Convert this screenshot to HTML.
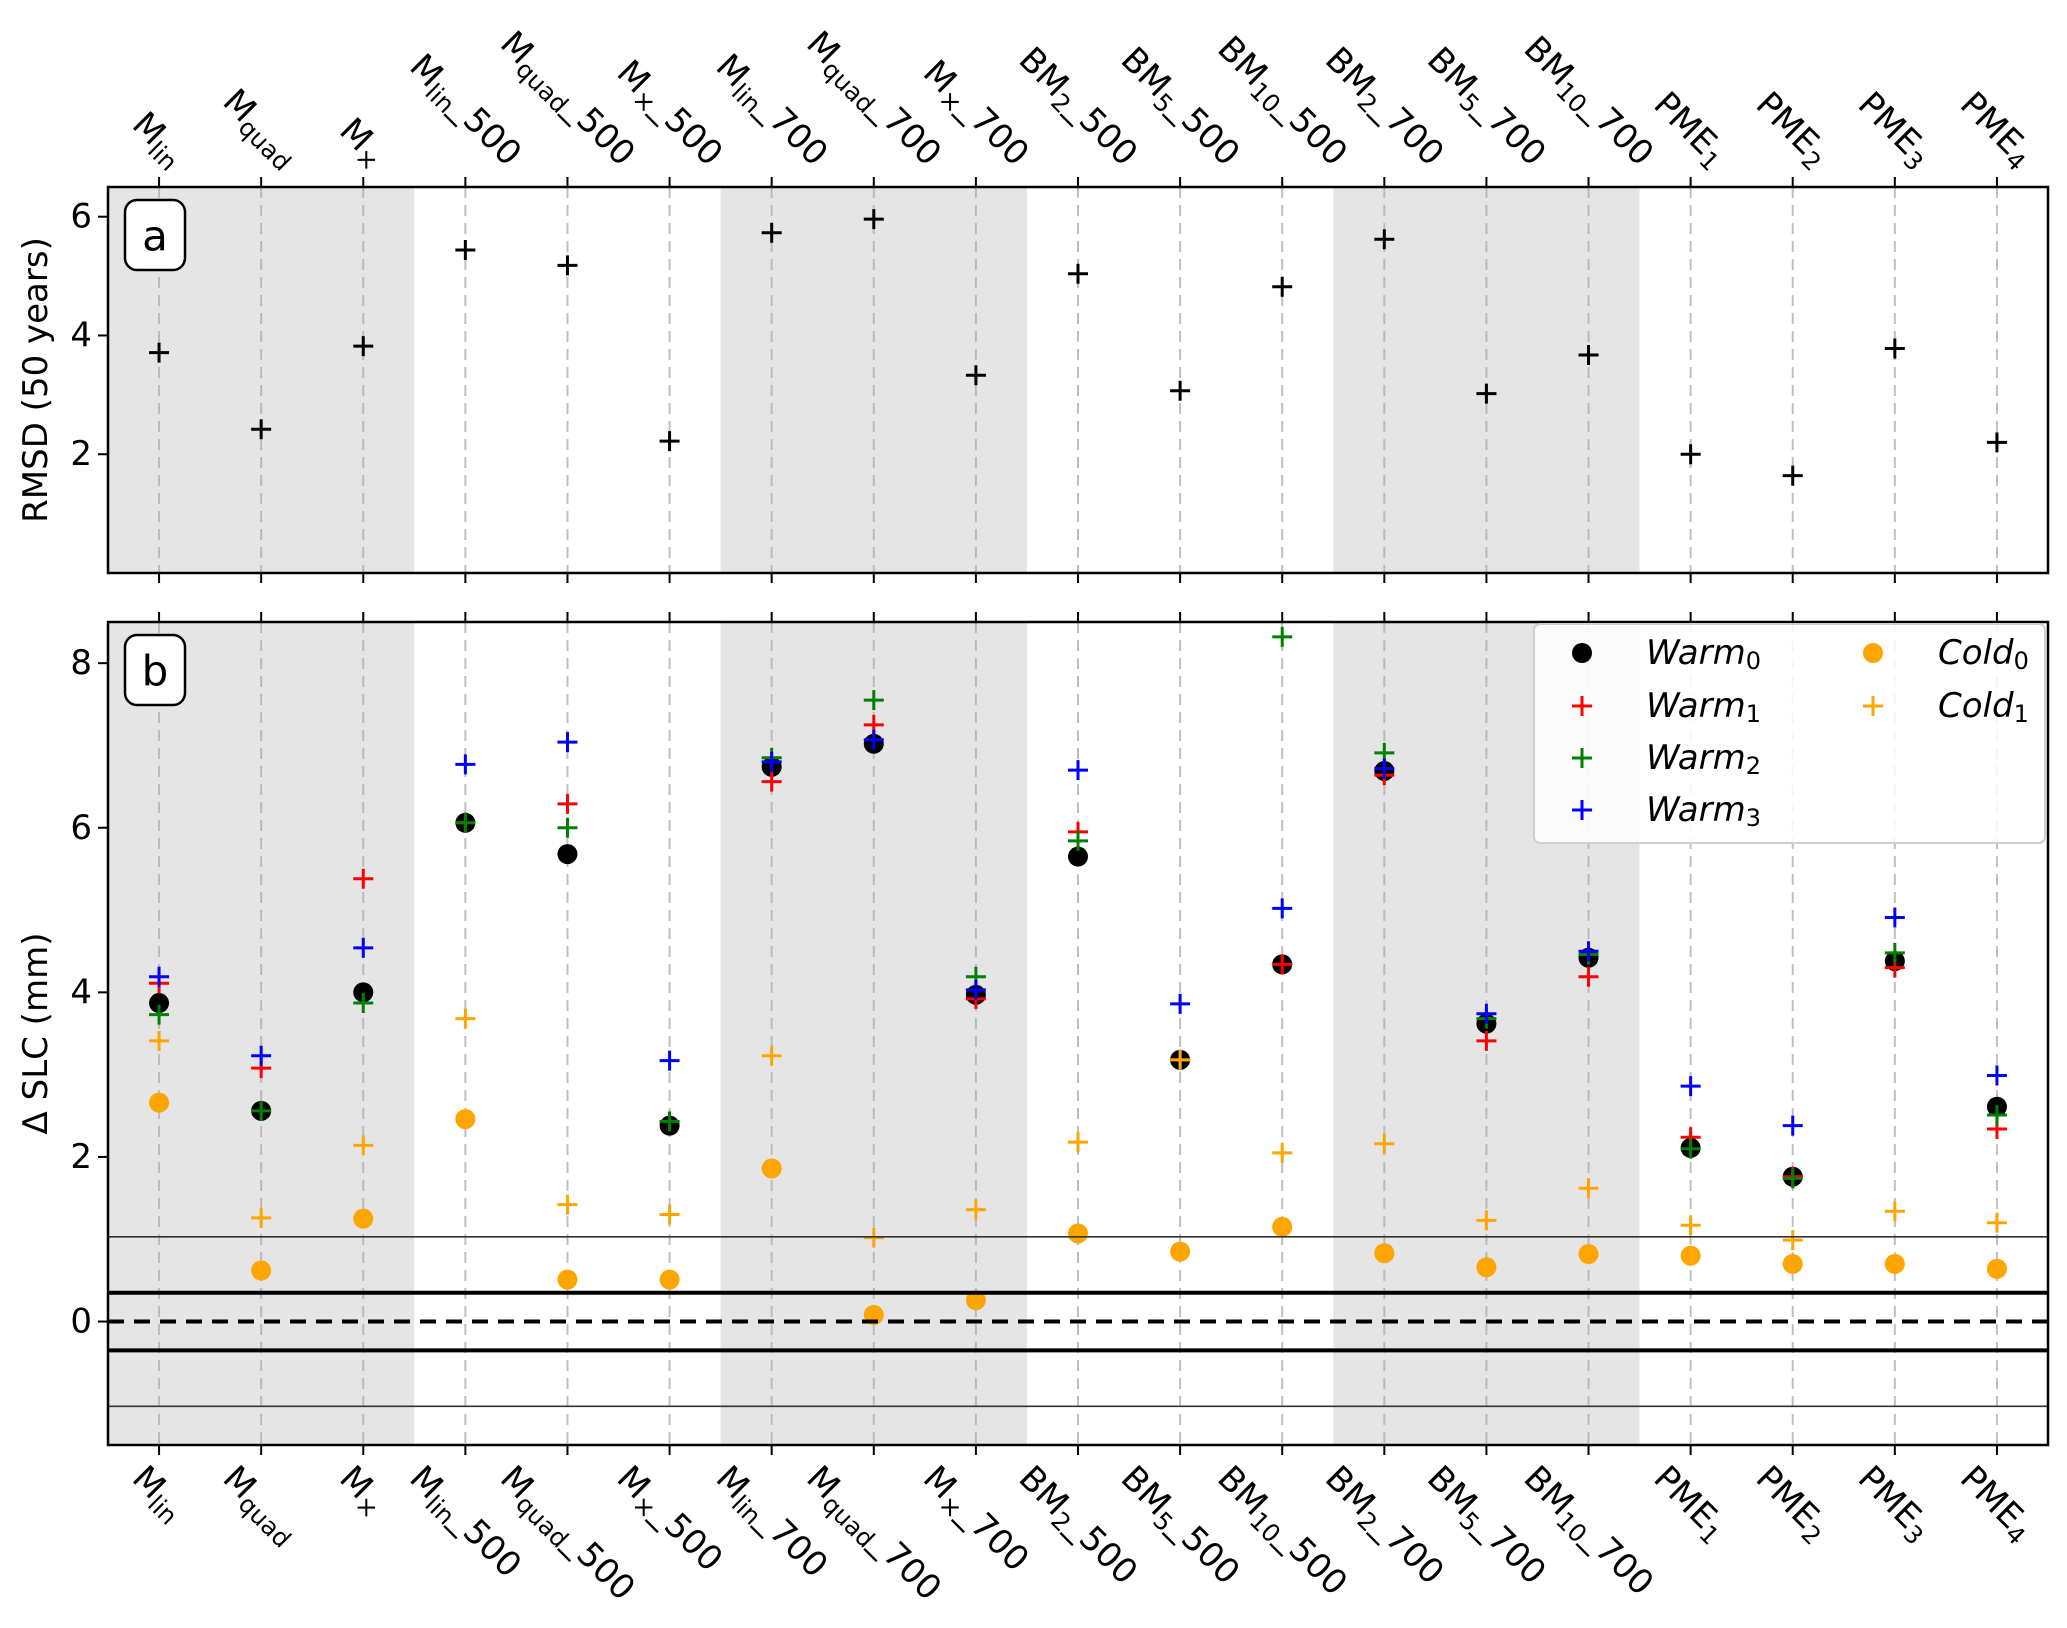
<!DOCTYPE html>
<html><head><meta charset="utf-8"><style>
body{margin:0;background:#fff}
svg text{font-family:"DejaVu Sans","Liberation Sans",sans-serif}
</style></head><body>
<svg id="chart" width="2067" height="1623" xmlns="http://www.w3.org/2000/svg">
<g id="panelA"></g>
<g id="panelB"></g>
</svg>
<script>
const categories = [["M","lin",""],["M","quad",""],["M","×",""],["M","lin","_500"],["M","quad","_500"],["M","×","_500"],["M","lin","_700"],["M","quad","_700"],["M","×","_700"],["BM","2","_500"],["BM","5","_500"],["BM","10","_500"],["BM","2","_700"],["BM","5","_700"],["BM","10","_700"],["PME","1",""],["PME","2",""],["PME","3",""],["PME","4",""]];
const rmsd = [3.71,2.42,3.82,5.44,5.18,2.22,5.73,5.96,3.33,5.04,3.07,4.82,5.62,3.02,3.67,2.0,1.64,3.78,2.2];
const warm0 = [3.87,2.56,4.0,6.06,5.68,2.38,6.74,7.02,3.97,5.65,3.18,4.34,6.69,3.62,4.42,2.11,1.76,4.38,2.61];
const warm1 = [4.11,3.08,5.38,6.06,6.29,2.43,6.56,7.25,3.92,5.95,3.18,4.34,6.64,3.41,4.19,2.24,1.76,4.3,2.34];
const warm2 = [3.73,2.56,3.87,6.06,6.0,2.43,6.85,7.55,4.19,5.84,3.18,8.32,6.91,3.68,4.46,2.1,1.74,4.48,2.51];
const warm3 = [4.19,3.23,4.54,6.77,7.04,3.17,6.8,7.07,4.03,6.7,3.86,5.02,6.72,3.74,4.5,2.86,2.38,4.91,2.99];
const cold0 = [2.66,0.62,1.25,2.46,0.51,0.51,1.86,0.08,0.26,1.07,0.85,1.15,0.83,0.66,0.82,0.8,0.7,0.7,0.64];
const cold1 = [3.41,1.26,2.14,3.68,1.42,1.3,3.23,1.02,1.36,2.18,3.18,2.05,2.16,1.23,1.62,1.17,0.99,1.34,1.2];
const ticksA = [2,4,6];
const ticksB = [0,2,4,6,8];
const shadeBands = [[-0.5,2.5],[5.5,8.5],[11.5,14.5]];
const hLines = [0.35,-0.35,1.03,-1.03];

const NS="http://www.w3.org/2000/svg";
const L=108,R=2048;
const xs=v=>L+(v+0.5)/19*(R-L);
const A={top:187,bot:573,min:0,max:6.5};
const B={top:622,bot:1445,min:-1.5,max:8.5};
const ys=(P,v)=>P.bot-(v-P.min)/(P.max-P.min)*(P.bot-P.top);
function el(t,a,p){const e=document.createElementNS(NS,t);for(const k in a)e.setAttribute(k,a[k]);p.appendChild(e);return e;}
const FS=34;

function plus(g,x,y,c,name){const s=10;
 const p=el('path',{d:`M${x-s},${y}H${x+s}M${x},${y-s}V${y+s}`,stroke:c,'stroke-width':3,fill:'none'},g);
 
 
 return p;}
function dot(g,x,y,c,name){const d=el('circle',{cx:x,cy:y,r:10,fill:c},g);
 
 }

function label(g,cat,x,yEdge,top,name){
 const t=el('text',{'font-size':FS,'text-anchor':'middle','dominant-baseline':'central'},g);
 
 
 const a=document.createElementNS(NS,'tspan');a.textContent=cat[0];t.appendChild(a);
 const b=document.createElementNS(NS,'tspan');b.textContent=cat[1];b.setAttribute('font-size',FS*0.72);b.setAttribute('dy',9);t.appendChild(b);
 if(cat[2]){const c=document.createElementNS(NS,'tspan');c.textContent=cat[2];c.setAttribute('dy',-9);t.appendChild(c);}
 const w=t.getComputedTextLength();const h=FS*1.1;
 const half=(w+h)/(2*Math.SQRT2);
 const cy=top?yEdge-14-half:yEdge+14+half;
 t.setAttribute('x',x);t.setAttribute('y',cy);
 t.setAttribute('transform',`rotate(45 ${x} ${cy})`);
}

function panel(g,P,ticks,letter,ylab,id){
 el('rect',{x:L,y:P.top,width:R-L,height:P.bot-P.top,fill:'#fff'},g);
 shadeBands.forEach((b,i)=>{const r=el('rect',{x:xs(b[0]),y:P.top,width:xs(b[1])-xs(b[0]),height:P.bot-P.top,fill:'#e5e5e5'},g);
  
  });
 categories.forEach((c,i)=>{const l=el('line',{x1:xs(i),x2:xs(i),y1:P.top,y2:P.bot,stroke:'#b0b0b0','stroke-width':2,'stroke-dasharray':'11,7',opacity:0.8},g);
  
  });
 ticks.forEach(v=>{const y=ys(P,v);el('line',{x1:L-10,x2:L,y1:y,y2:y,stroke:'#000','stroke-width':2},g);
  const t=el('text',{x:L-16,y:y,'font-size':FS,'text-anchor':'end','dominant-baseline':'central'},g);t.textContent=v;
  
  });
 const yl=el('text',{x:0,y:0,'font-size':FS,'text-anchor':'middle',transform:`translate(36 ${(P.top+P.bot)/2}) rotate(-90)`,'dominant-baseline':'central'},g);
 yl.textContent=ylab;
 
 
 const bx=el('rect',{x:125,y:P.top+13,width:60,height:70,rx:12,fill:'#fff',stroke:'#000','stroke-width':2.5},g);
 
 
 const lt=el('text',{x:155,y:P.top+49,'font-size':42,'text-anchor':'middle','dominant-baseline':'central'},g);lt.textContent=letter;
 
 
 categories.forEach((c,i)=>{el('line',{x1:xs(i),x2:xs(i),y1:P.top-10,y2:P.top,stroke:'#000','stroke-width':2},g);
  el('line',{x1:xs(i),x2:xs(i),y1:P.bot,y2:P.bot+10,stroke:'#000','stroke-width':2},g);});
}
function frame(g,P){el('rect',{x:L,y:P.top,width:R-L,height:P.bot-P.top,fill:'none',stroke:'#000','stroke-width':2.5},g);}

const gA=document.getElementById('panelA'),gB=document.getElementById('panelB');
panel(gA,A,ticksA,'a','RMSD (50 years)','a');
rmsd.forEach((v,i)=>plus(gA,xs(i),ys(A,v),'#000','rmsd-'+i));
frame(gA,A);
categories.forEach((c,i)=>label(gA,c,xs(i),A.top,true,'top-x-label-'+i));

panel(gB,B,ticksB,'b','Δ SLC (mm)','b');
warm0.forEach((v,i)=>dot(gB,xs(i),ys(B,v),'#000','warm0-'+i));
cold0.forEach((v,i)=>dot(gB,xs(i),ys(B,v),'#ffa500','cold0-'+i));
warm1.forEach((v,i)=>plus(gB,xs(i),ys(B,v),'#ff0000','warm1-'+i));
warm2.forEach((v,i)=>plus(gB,xs(i),ys(B,v),'#008000','warm2-'+i));
warm3.forEach((v,i)=>plus(gB,xs(i),ys(B,v),'#0000ff','warm3-'+i));
cold1.forEach((v,i)=>plus(gB,xs(i),ys(B,v),'#ffa500','cold1-'+i));
hLines.forEach((v,i)=>{const thick=Math.abs(v)<0.5;const l=el('line',{x1:L,x2:R,y1:ys(B,v),y2:ys(B,v),stroke:thick?'#000':'#333','stroke-width':thick?4:1.6},gB);
 
 });
const z=el('line',{x1:L,x2:R,y1:ys(B,0),y2:ys(B,0),stroke:'#000','stroke-width':4,'stroke-dasharray':'16,10'},gB);


frame(gB,B);
categories.forEach((c,i)=>label(gB,c,xs(i),B.bot,false,'bottom-x-label-'+i));

// legend
const lg=el('g',{},gB);


el('rect',{x:1534,y:624,width:511,height:219,rx:6,fill:'#fff','fill-opacity':0.85,stroke:'#d0d0d0','stroke-width':2},lg);
const entries=[['Warm','0','#000','dot',1582,1646,653],['Warm','1','#ff0000','plus',1582,1646,706],['Warm','2','#008000','plus',1582,1646,758],['Warm','3','#0000ff','plus',1582,1646,810],['Cold','0','#ffa500','dot',1873,1938,653],['Cold','1','#ffa500','plus',1873,1938,706]];
entries.forEach(e=>{const g=el('g',{},lg);
 
 
 if(e[3]=='dot')dot(g,e[4],e[6],e[2],'legend-marker');else plus(g,e[4],e[6],e[2],'legend-marker');
 const t=el('text',{x:e[5],y:e[6],'font-size':34,'font-style':'italic','dominant-baseline':'central'},g);
 const a=document.createElementNS(NS,'tspan');a.textContent=e[0];t.appendChild(a);
 const b=document.createElementNS(NS,'tspan');b.textContent=e[1];b.setAttribute('font-size',24);b.setAttribute('font-style','normal');b.setAttribute('dy',8);t.appendChild(b);
});
</script>
</body></html>
